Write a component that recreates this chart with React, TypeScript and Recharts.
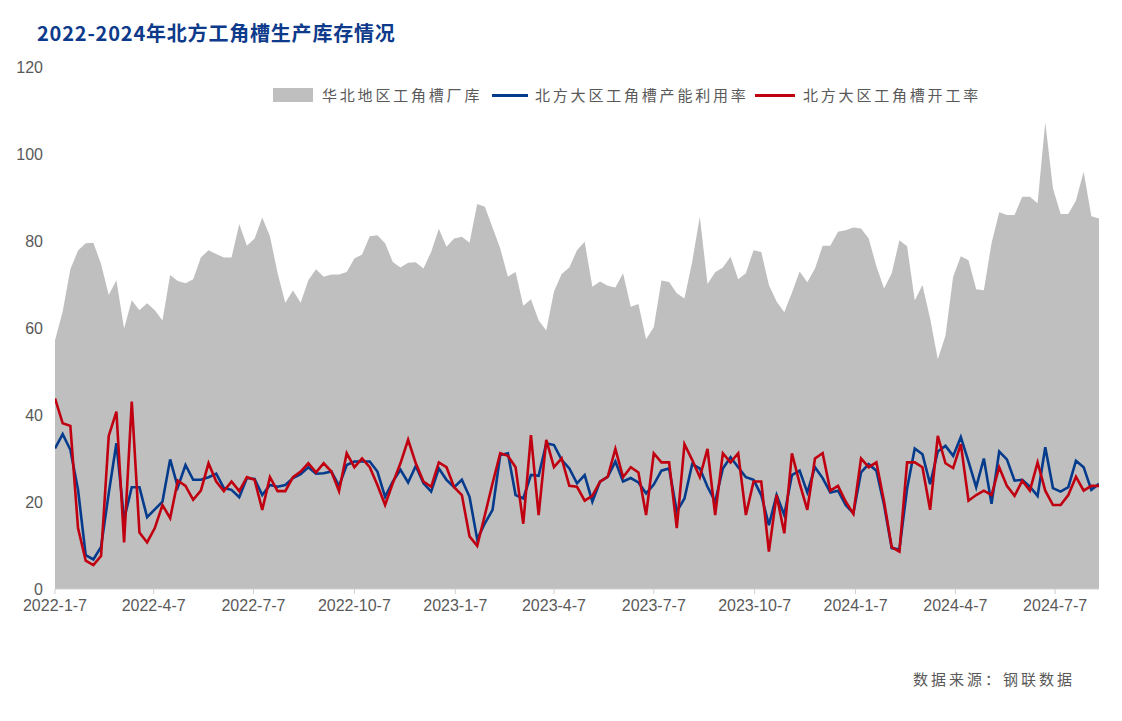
import React from 'react';
import { ComposedChart, Area, Line, XAxis, YAxis, Legend } from 'recharts';

const tickLabels = ['2022-1-7', '2022-4-7', '2022-7-7', '2022-10-7', '2023-1-7', '2023-4-7', '2023-7-7', '2023-10-7', '2024-1-7', '2024-4-7', '2024-7-7'];
const yTicks = [0, 20, 40, 60, 80, 100, 120];

// 华北地区工角槽厂库 (weekly, from 2022-1-7)
const stock = [
  57.2, 63.8, 73.5, 77.8, 79.5, 79.6, 74.7, 67.6, 71.0, 59.9,
  66.4, 64.1, 65.7, 64.1, 61.7, 72.2, 70.8, 70.3, 71.2, 76.2,
  77.9, 77.0, 76.2, 76.2, 83.9, 78.9, 80.6, 85.4, 81.1, 72.6,
  65.8, 68.6, 65.8, 71.0, 73.5, 71.8, 72.3, 72.3, 72.9, 76.0,
  76.9, 81.1, 81.3, 79.5, 75.2, 73.9, 75.0, 75.1, 73.7, 77.5,
  82.8, 78.7, 80.6, 81.0, 79.6, 88.5, 87.9, 83.1, 78.3, 71.8,
  72.9, 65.1, 66.6, 61.8, 59.4, 68.4, 72.4, 73.9, 77.9, 79.8,
  69.5, 70.7, 69.7, 69.3, 72.6, 64.9, 65.5, 57.4, 60.2, 70.9,
  70.6, 68.0, 66.8, 75.2, 85.6, 70.1, 72.8, 73.9, 76.4, 71.2,
  72.6, 77.9, 77.5, 69.9, 66.1, 63.6, 68.1, 73.0, 70.5, 73.7,
  78.9, 78.9, 82.1, 82.5, 83.1, 82.9, 80.6, 74.2, 69.1, 72.6,
  80.2, 78.8, 66.3, 69.9, 62.2, 52.8, 58.2, 71.8, 76.5, 75.6,
  68.9, 68.7, 79.5, 86.6, 86.0, 86.0, 90.2, 90.2, 88.7, 107.3,
  92.1, 86.2, 86.2, 89.3, 95.9, 85.7, 85.2,
];

// 北方大区工角槽产能利用率
const utilization = [
  32.3, 35.6, 32.0, 22.8, 7.8, 6.8, 9.7, 22.0, 33.5, 16.0,
  23.4, 23.4, 16.5, 18.3, 20.1, 29.8, 23.4, 28.5, 25.1, 25.1,
  25.7, 26.5, 23.2, 22.8, 21.1, 25.5, 25.3, 21.6, 23.9, 23.5,
  23.9, 25.5, 26.4, 28.0, 26.5, 26.6, 27.0, 23.7, 28.5, 29.3,
  29.3, 29.3, 27.0, 21.2, 24.7, 27.4, 24.5, 28.3, 24.3, 22.4,
  27.7, 25.1, 23.4, 25.1, 21.2, 11.4, 15.1, 18.2, 30.8, 31.2,
  21.6, 20.8, 26.2, 26.0, 33.5, 33.1, 29.7, 27.7, 24.3, 26.2,
  20.1, 24.7, 25.8, 29.3, 24.7, 25.5, 24.5, 22.0, 24.0, 27.2,
  27.7, 17.8, 20.8, 28.7, 27.7, 23.5, 20.1, 27.7, 30.3, 28.0,
  25.7, 25.1, 21.6, 14.7, 21.6, 17.0, 26.2, 27.2, 22.2, 28.0,
  25.5, 22.2, 22.6, 19.3, 17.4, 26.8, 28.7, 27.2, 19.3, 9.4,
  9.1, 23.1, 32.3, 31.0, 24.1, 31.6, 32.9, 30.6, 34.9, 29.3,
  23.4, 30.0, 19.6, 31.6, 29.8, 24.9, 25.1, 23.5, 21.4, 32.6,
  23.2, 22.4, 23.4, 29.5, 28.0, 22.8, 24.2,
];

// 北方大区工角槽开工率
const operating = [
  43.8, 38.1, 37.5, 14.0, 6.5, 5.5, 7.6, 35.2, 40.8, 10.7,
  43.1, 13.0, 10.7, 14.0, 19.3, 16.3, 24.9, 23.7, 20.5, 22.6,
  28.9, 24.7, 22.5, 24.7, 22.5, 25.7, 25.1, 18.2, 25.7, 22.5,
  22.5, 25.7, 27.0, 28.9, 26.8, 28.9, 27.0, 22.5, 31.2, 28.0,
  30.0, 28.0, 23.9, 19.3, 24.3, 28.9, 34.3, 28.9, 24.7, 23.5,
  29.1, 28.0, 23.4, 21.6, 12.1, 9.9, 17.0, 24.3, 31.2, 30.6,
  28.0, 15.0, 35.4, 17.0, 34.3, 28.0, 30.0, 23.7, 23.5, 20.3,
  21.4, 24.7, 25.8, 32.2, 25.7, 28.0, 26.8, 17.0, 31.2, 29.1,
  29.1, 14.0, 33.3, 29.7, 25.7, 32.2, 17.0, 31.2, 29.1, 31.2,
  17.0, 24.7, 24.7, 8.6, 21.6, 12.8, 31.2, 24.3, 18.2, 30.0,
  31.2, 22.6, 23.7, 20.1, 17.3, 30.0, 28.0, 29.1, 20.1, 9.6,
  8.6, 29.1, 29.1, 28.0, 18.2, 35.2, 28.9, 27.8, 33.3, 20.3,
  21.6, 22.6, 21.6, 28.0, 23.7, 21.4, 24.9, 22.6, 29.1, 22.6,
  19.3, 19.3, 21.6, 25.8, 22.6, 23.7, 23.7,
];

const DAY = 86400000;
const t0 = Date.UTC(2022, 0, 7);
const toDay = (s: string) => {
  const [y, m, d] = s.split('-').map(Number);
  return Math.round((Date.UTC(y, m - 1, d) - t0) / DAY);
};
const tickDays = tickLabels.map(toDay);
const data = stock.map((v, i) => ({ day: i * 7, stock: v, util: utilization[i], op: operating[i] }));
const lastDay = (stock.length - 1) * 7;

const GREY = '#BFBFBF';
const BLUE = '#053B8C';
const RED = '#C00010';
const TEXT = '#595959';
const FONT = '"Liberation Sans", "Noto Sans CJK SC", sans-serif';
const CJK = '"Noto Sans CJK SC", sans-serif';

const renderLegend = () => (
  <div style={{ position: 'relative', width: 800, height: 22, fontFamily: CJK, fontSize: 15, color: TEXT, letterSpacing: '2.8px', whiteSpace: 'nowrap' }}>
    <span style={{ position: 'absolute', left: 0, top: 4, width: 40, height: 14, background: GREY }} />
    <span style={{ position: 'absolute', left: 49, top: 0, lineHeight: '22px' }}>华北地区工角槽厂库</span>
    <span style={{ position: 'absolute', left: 219, top: 10, width: 36, height: 3, background: BLUE }} />
    <span style={{ position: 'absolute', left: 262, top: 0, lineHeight: '22px' }}>北方大区工角槽产能利用率</span>
    <span style={{ position: 'absolute', left: 482, top: 10, width: 40, height: 3, background: RED }} />
    <span style={{ position: 'absolute', left: 530, top: 0, lineHeight: '22px' }}>北方大区工角槽开工率</span>
  </div>
);

export default function App() {
  return (
    <div style={{ position: 'absolute', left: 0, top: 0, width: 1122, height: 721, background: '#fff', fontFamily: FONT }}>
      <div style={{ position: 'absolute', left: 37, top: 19, fontFamily: CJK, fontWeight: 700, fontSize: 20, color: '#0D3A8A', letterSpacing: '0.8px', whiteSpace: 'nowrap', lineHeight: '28px' }}>
        2022-2024年北方工角槽生产库存情况
      </div>
      <ComposedChart width={1122} height={721} data={data} margin={{ top: 67, right: 23, bottom: 102, left: 0 }}>
        <XAxis
          type="number"
          dataKey="day"
          domain={[0, lastDay]}
          ticks={tickDays}
          interval={0}
          tickFormatter={(d: number) => tickLabels[tickDays.indexOf(d)] ?? ''}
          axisLine={{ stroke: '#D0D0D0', strokeWidth: 1 }}
          tickLine={{ stroke: '#D0D0D0' }}
          tickSize={5}
          tickMargin={6}
          height={30}
          tick={{ fill: TEXT, fontSize: 16, fontFamily: FONT }}
          allowDataOverflow
        />
        <YAxis
          type="number"
          domain={[0, 120]}
          ticks={yTicks}
          interval={0}
          axisLine={false}
          tickLine={false}
          tickMargin={6}
          width={55}
          tick={{ fill: TEXT, fontSize: 16, fontFamily: FONT }}
        />
        <Legend layout="horizontal" verticalAlign="middle" align="center" wrapperStyle={{ top: 84, left: 273, width: 800, height: 22 }} content={renderLegend} />
        <Area type="linear" dataKey="stock" name="华北地区工角槽厂库" fill={GREY} fillOpacity={1} stroke="none" isAnimationActive={false} />
        <Line type="linear" dataKey="util" name="北方大区工角槽产能利用率" stroke={BLUE} strokeWidth={2.6} dot={false} isAnimationActive={false} />
        <Line type="linear" dataKey="op" name="北方大区工角槽开工率" stroke={RED} strokeWidth={2.6} dot={false} isAnimationActive={false} />
      </ComposedChart>
      <div style={{ position: 'absolute', left: 913, top: 667, fontFamily: CJK, fontSize: 15, color: TEXT, letterSpacing: '3px', whiteSpace: 'nowrap', lineHeight: '24px' }}>
        数据来源：钢联数据
      </div>
    </div>
  );
}
